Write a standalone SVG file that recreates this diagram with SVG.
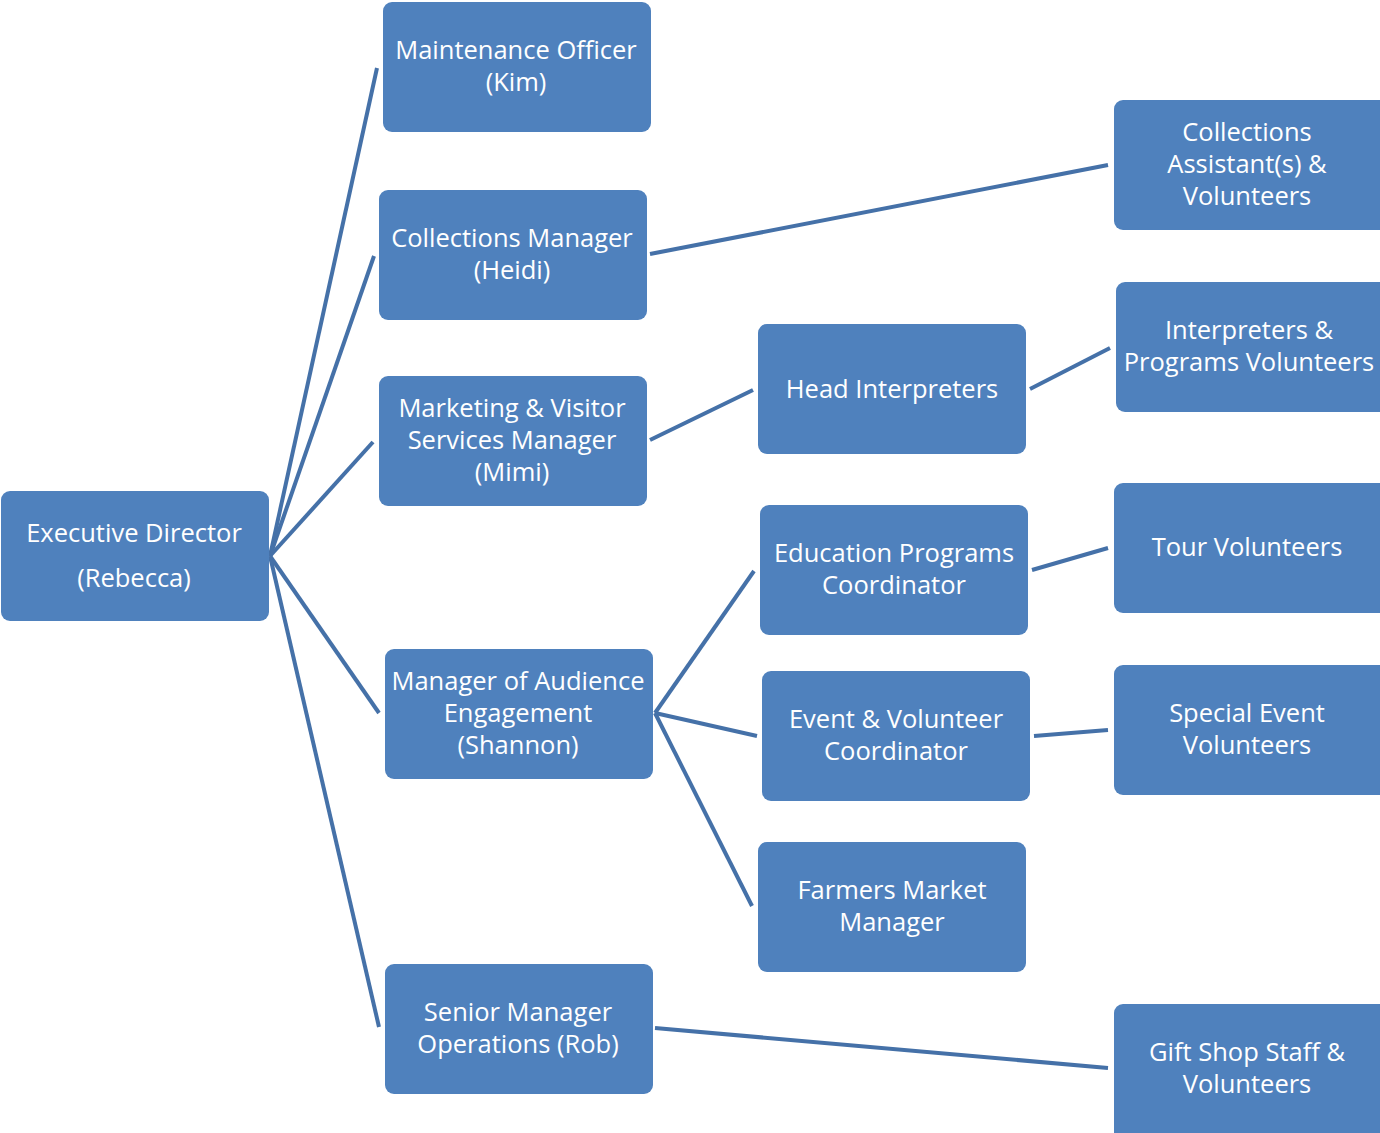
<svg xmlns="http://www.w3.org/2000/svg" width="1380" height="1133" viewBox="0 0 1380 1133">
<style>
.n{fill:#4F81BD;}
.t{font-family:"Open Sans","Noto Sans",sans-serif;font-size:25.5px;fill:#fff;text-anchor:middle;}
.c line{stroke:#4571A8;stroke-width:4;stroke-linecap:butt;}
</style>
<rect width="1380" height="1133" fill="#fff"/>
<g class="c" id="connectors">
<line x1="270" y1="556" x2="377" y2="68"/>
<line x1="270" y1="556" x2="374" y2="256"/>
<line x1="270" y1="556" x2="373" y2="442"/>
<line x1="270" y1="556" x2="379" y2="713"/>
<line x1="270" y1="556" x2="379" y2="1027"/>
<line x1="650" y1="254" x2="1108" y2="165"/>
<line x1="650" y1="440" x2="753" y2="390"/>
<line x1="1030" y1="389" x2="1110" y2="348"/>
<line x1="655" y1="713" x2="754" y2="571"/>
<line x1="655" y1="713" x2="757" y2="736"/>
<line x1="655" y1="713" x2="752" y2="906"/>
<line x1="1032" y1="570" x2="1108" y2="548"/>
<line x1="1034" y1="736" x2="1108" y2="730"/>
<line x1="655" y1="1028" x2="1108" y2="1068"/>
</g>
<g id="exec"><rect class="n" x="1" y="491" width="268" height="130" rx="9"/><text class="t" x="134" y="542">Executive Director</text><text class="t" x="134" y="587">(Rebecca)</text></g>
<g id="maint"><rect class="n" x="383" y="2" width="268" height="130" rx="9"/><text class="t" x="516" y="59">Maintenance Officer</text><text class="t" x="516" y="91">(Kim)</text></g>
<g id="collmgr"><rect class="n" x="379" y="190" width="268" height="130" rx="9"/><text class="t" x="512" y="247">Collections Manager</text><text class="t" x="512" y="279">(Heidi)</text></g>
<g id="marketing"><rect class="n" x="379" y="376" width="268" height="130" rx="9"/><text class="t" x="512" y="417">Marketing &amp; Visitor</text><text class="t" x="512" y="449">Services Manager</text><text class="t" x="512" y="481">(Mimi)</text></g>
<g id="audience"><rect class="n" x="385" y="649" width="268" height="130" rx="9"/><text class="t" x="518" y="690">Manager of Audience</text><text class="t" x="518" y="722">Engagement</text><text class="t" x="518" y="754">(Shannon)</text></g>
<g id="senior"><rect class="n" x="385" y="964" width="268" height="130" rx="9"/><text class="t" x="518" y="1021">Senior Manager</text><text class="t" x="518" y="1053">Operations (Rob)</text></g>
<g id="headinterp"><rect class="n" x="758" y="324" width="268" height="130" rx="9"/><text class="t" x="892" y="398">Head Interpreters</text></g>
<g id="edu"><rect class="n" x="760" y="505" width="268" height="130" rx="9"/><text class="t" x="894" y="562">Education Programs</text><text class="t" x="894" y="594">Coordinator</text></g>
<g id="event"><rect class="n" x="762" y="671" width="268" height="130" rx="9"/><text class="t" x="896" y="728">Event &amp; Volunteer</text><text class="t" x="896" y="760">Coordinator</text></g>
<g id="farmers"><rect class="n" x="758" y="842" width="268" height="130" rx="9"/><text class="t" x="892" y="899">Farmers Market</text><text class="t" x="892" y="931">Manager</text></g>
<g id="collasst"><rect class="n" x="1114" y="100" width="276" height="130" rx="9"/><text class="t" x="1247" y="141">Collections</text><text class="t" x="1247" y="173">Assistant(s) &amp;</text><text class="t" x="1247" y="205">Volunteers</text></g>
<g id="interp"><rect class="n" x="1116" y="282" width="274" height="130" rx="9"/><text class="t" x="1249" y="339">Interpreters &amp;</text><text class="t" x="1249" y="371">Programs Volunteers</text></g>
<g id="tour"><rect class="n" x="1114" y="483" width="276" height="130" rx="9"/><text class="t" x="1247" y="556">Tour Volunteers</text></g>
<g id="special"><rect class="n" x="1114" y="665" width="276" height="130" rx="9"/><text class="t" x="1247" y="722">Special Event</text><text class="t" x="1247" y="754">Volunteers</text></g>
<g id="giftshop"><rect class="n" x="1114" y="1004" width="276" height="140" rx="9"/><text class="t" x="1247" y="1061">Gift Shop Staff &amp;</text><text class="t" x="1247" y="1093">Volunteers</text></g>
</svg>
